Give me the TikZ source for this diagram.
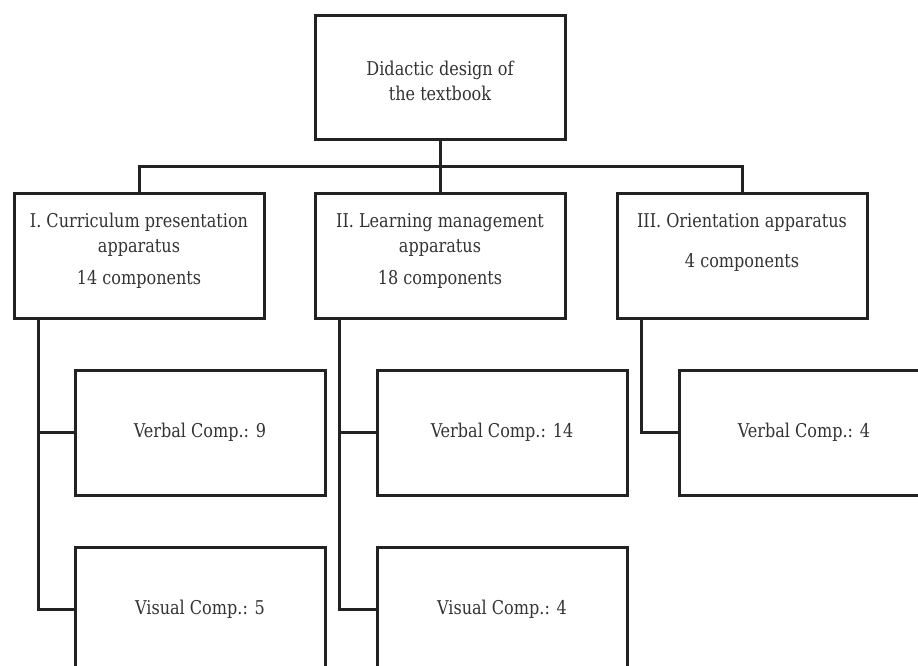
\documentclass[tikz,border=0pt]{standalone}
\usepackage{fontspec}
\setmainfont[FakeStretch=0.94]{DejaVu Serif Condensed}
\definecolor{ink}{HTML}{222222}
\definecolor{txt}{HTML}{333333}
\begin{document}
\begin{tikzpicture}[x=1pt,y=-1pt,
  box/.style={draw=ink,line width=3pt,rectangle,inner sep=0pt,minimum width=250pt},
  tl/.style={text=txt,font=\fontsize{19}{25}\selectfont,align=center,inner sep=0pt},
  wire/.style={draw=ink,line width=3pt}]
\useasboundingbox (0,0) rectangle (918,666);
\clip (0,0) rectangle (918,666);
% top
\node[box,minimum height=124pt] (top) at (440,78) {};
\node[tl] (toptext) at (440,81) {Didactic design of\\the textbook};
% level 2
\node[box,minimum height=125pt] (a) at (139,255.5) {};
\node[box,minimum height=125pt] (b) at (440,255.5) {};
\node[box,minimum height=125pt] (c) at (742,255.5) {};
\node[tl,anchor=north] (atext) at (139,213) {I. Curriculum presentation\\apparatus\\[7pt]14 components};
\node[tl,anchor=north] (btext) at (440,213) {II. Learning management\\apparatus\\[7pt]18 components};
\node[tl,anchor=north] (ctext) at (742,213) {III. Orientation apparatus\\[15pt]4 components};
% level 3
\node[box,minimum height=125pt] (av) at (200,432.5) {};
\node[box,minimum height=125pt] (avis) at (200,609.5) {};
\node[box,minimum height=125pt] (bv) at (502,432.5) {};
\node[box,minimum height=125pt] (bvis) at (502,609.5) {};
\node[box,minimum height=125pt] (cv) at (804,432.5) {};
\node[tl] at (av) {Verbal Comp.: 9};
\node[tl] at (avis) {Visual Comp.: 5};
\node[tl] at (bv) {Verbal Comp.: 14};
\node[tl] at (bvis) {Visual Comp.: 4};
\node[tl] at (cv) {Verbal Comp.: 4};
% connectors
\coordinate (bus) at (440,166);
\draw[wire] (top.south) -- (bus);
\draw[wire] (a.north) |- (bus) -| (c.north);
\draw[wire] (bus) -- (b.north);
\draw[wire] ([xshift=26pt]a.south west) |- (avis.west);
\draw[wire] ([xshift=26pt]a.south west |- av.west) -- (av.west);
\draw[wire] ([xshift=26pt]b.south west) |- (bvis.west);
\draw[wire] ([xshift=26pt]b.south west |- bv.west) -- (bv.west);
\draw[wire] ([xshift=26pt]c.south west) |- (cv.west);
\end{tikzpicture}
\end{document}
